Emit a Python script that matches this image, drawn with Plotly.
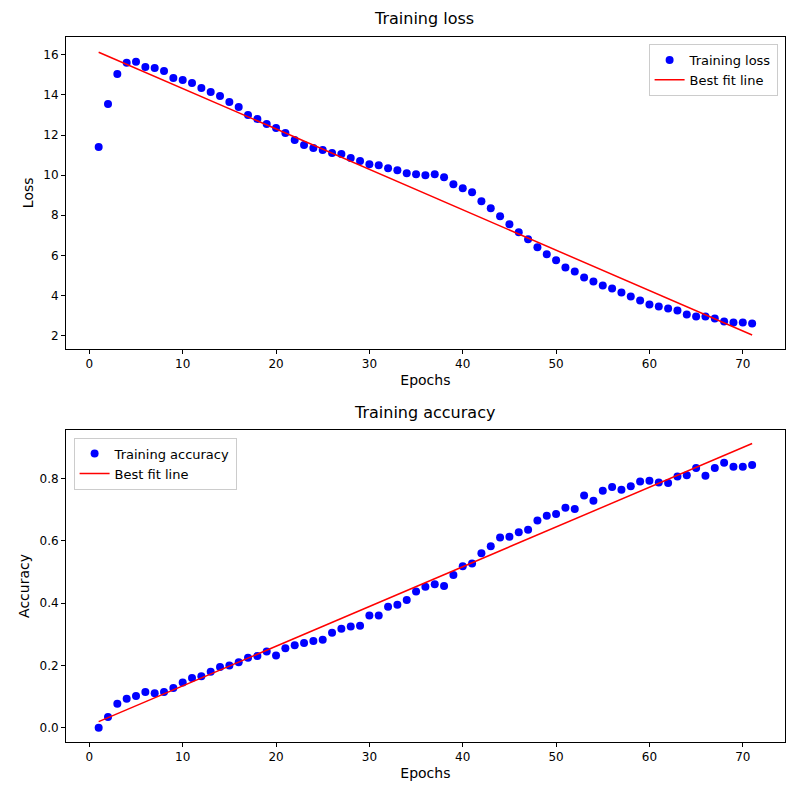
import numpy as np
import plotly.graph_objects as go

epochs = list(range(1, 72))
loss = [11.4, 13.55, 15.05, 15.6, 15.65, 15.4, 15.35, 15.2, 14.85, 14.75,
        14.6, 14.35, 14.15, 13.95, 13.65, 13.4, 13.0, 12.8, 12.55, 12.35,
        12.1, 11.75, 11.5, 11.35, 11.25, 11.1, 11.05, 10.85, 10.7, 10.55,
        10.5, 10.35, 10.25, 10.1, 10.05, 10.0, 10.05, 9.9, 9.55, 9.35,
        9.15, 8.7, 8.35, 7.95, 7.55, 7.15, 6.8, 6.4, 6.05, 5.75,
        5.4, 5.2, 4.9, 4.7, 4.5, 4.35, 4.15, 3.95, 3.75, 3.55,
        3.45, 3.35, 3.25, 3.05, 2.95, 2.95, 2.85, 2.7, 2.65, 2.65, 2.6]
acc = [0.0, 0.035, 0.077, 0.093, 0.102, 0.115, 0.111, 0.115, 0.128, 0.145,
       0.16, 0.165, 0.18, 0.195, 0.2, 0.21, 0.225, 0.23, 0.245, 0.232,
       0.255, 0.265, 0.272, 0.278, 0.282, 0.305, 0.318, 0.325, 0.327, 0.36,
       0.36, 0.388, 0.395, 0.41, 0.437, 0.452, 0.46, 0.455, 0.49, 0.518,
       0.527, 0.56, 0.582, 0.61, 0.613, 0.627, 0.635, 0.665, 0.68, 0.686,
       0.706, 0.702, 0.745, 0.728, 0.76, 0.772, 0.763, 0.775, 0.79, 0.792,
       0.787, 0.785, 0.806, 0.81, 0.833, 0.808, 0.833, 0.85, 0.837, 0.837, 0.843]

x = np.array(epochs)
loss_fit = np.polyval(np.polyfit(x, loss, 1), x)
acc_fit = np.polyval(np.polyfit(x, acc, 1), x)

fig = go.Figure()
mk = dict(color="blue", size=8)
fig.add_trace(go.Scatter(x=epochs, y=loss, mode="markers", marker=mk,
                         name="Training loss", legend="legend"))
fig.add_trace(go.Scatter(x=epochs, y=loss_fit, mode="lines", line=dict(color="red", width=1.5),
                         name="Best fit line", legend="legend"))
fig.add_trace(go.Scatter(x=epochs, y=acc, mode="markers", marker=mk, xaxis="x2", yaxis="y2",
                         name="Training accuracy", legend="legend2"))
fig.add_trace(go.Scatter(x=epochs, y=acc_fit, mode="lines", line=dict(color="red", width=1.5),
                         xaxis="x2", yaxis="y2", name="Best fit line", legend="legend2"))

ax = dict(showgrid=False, zeroline=False, showline=True, linecolor="black", mirror=True,
          ticks="outside", ticklen=4, tickcolor="black")
font = dict(family="DejaVu Sans", size=12, color="black")
fig.update_layout(
    width=800, height=800, paper_bgcolor="white", plot_bgcolor="white",
    margin=dict(l=0, r=0, t=0, b=0), font=font,
    xaxis=dict(ax, domain=[0.0725, 0.971], range=[-2.5, 74.5], dtick=10,
               title=dict(text="Epochs", standoff=4), anchor="y"),
    yaxis=dict(ax, domain=[0.574, 0.964], range=[1.34, 16.9], dtick=2,
               title=dict(text="Loss", standoff=6), anchor="x"),
    xaxis2=dict(ax, domain=[0.0725, 0.971], range=[-2.5, 74.5], dtick=10,
                title=dict(text="Epochs", standoff=4), anchor="y2"),
    yaxis2=dict(ax, domain=[0.0825, 0.4725], range=[-0.0455, 0.955], dtick=0.2,
                tickformat=".1f", title=dict(text="Accuracy", standoff=6), anchor="x2"),
    legend=dict(x=0.962, y=0.955, xanchor="right", yanchor="top", bordercolor="#cccccc",
                borderwidth=1, font=dict(size=13)),
    legend2=dict(x=0.082, y=0.463, xanchor="left", yanchor="top", bordercolor="#cccccc",
                 borderwidth=1, font=dict(size=13)),
    annotations=[
        dict(text="Training loss", x=0.52, y=0.972, xref="paper", yref="paper",
             showarrow=False, yanchor="bottom", font=dict(size=16)),
        dict(text="Training accuracy", x=0.52, y=0.480, xref="paper", yref="paper",
             showarrow=False, yanchor="bottom", font=dict(size=16)),
    ],
)
fig.write_html("out.html")
